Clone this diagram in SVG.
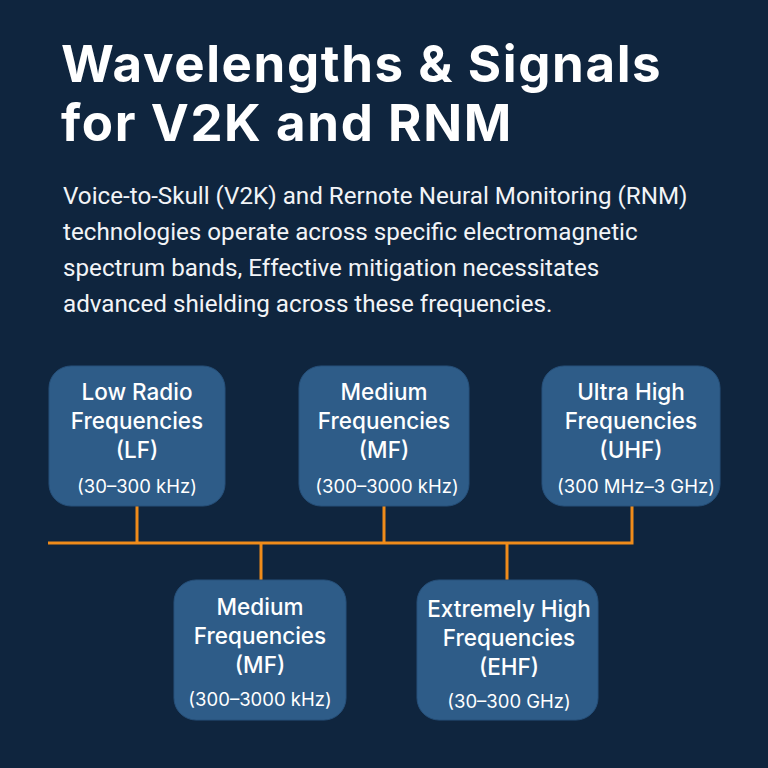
<svg xmlns="http://www.w3.org/2000/svg" width="768" height="768" viewBox="0 0 768 768">
<style>
.title{font-family:"Inter","Liberation Sans",sans-serif;font-weight:700;font-size:51px;letter-spacing:1.6px;fill:#ffffff}
.para{font-family:"Roboto","Liberation Sans",sans-serif;font-size:24.2px;fill:#f2f4f7}
.box{fill:#2e5c88;stroke:#26507a;stroke-width:1}
.lbl{font-family:"Inter","Liberation Sans",sans-serif;font-weight:500;font-size:22.5px;fill:#ffffff;text-anchor:middle}
.rng{font-family:"Inter","Liberation Sans",sans-serif;font-size:18.5px;fill:#ffffff;text-anchor:middle}
.wire{stroke:#f08c1a;stroke-width:3;fill:none}
</style>
<rect width="768" height="768" fill="#0f253e"/>
<text class="title" x="61" y="82">Wavelengths &amp; Signals</text>
<text class="title" x="61" y="141">for V2K and RNM</text>
<text class="para" x="63" y="204">Voice-to-Skull (V2K) and Rernote Neural Monitoring (RNM)</text>
<text class="para" x="63" y="240">technologies operate across specific electromagnetic</text>
<text class="para" x="63" y="276">spectrum bands, Effective mitigation necessitates</text>
<text class="para" x="63" y="312">advanced shielding across these frequencies.</text>
<g id="connectors">
<path class="wire" d="M48 543 H632 V506"/>
<path class="wire" d="M137 506 V543"/>
<path class="wire" d="M384 506 V543"/>
<path class="wire" d="M261 543 V580"/>
<path class="wire" d="M507 543 V580"/>
</g>
<g id="lf">
<rect class="box" x="49" y="366" width="176" height="140" rx="22"/>
<text class="lbl" x="137" y="400">Low Radio</text>
<text class="lbl" x="137" y="429">Frequencies</text>
<text class="lbl" x="137" y="458">(LF)</text>
<text class="rng" x="137" y="493">(30–300 kHz)</text>
</g>
<g id="mf1">
<rect class="box" x="299" y="366" width="170" height="140" rx="22"/>
<text class="lbl" x="384" y="400">Medium</text>
<text class="lbl" x="384" y="429">Frequencies</text>
<text class="lbl" x="384" y="458">(MF)</text>
<text class="rng" x="387" y="493">(300–3000 kHz)</text>
</g>
<g id="uhf">
<rect class="box" x="542" y="366" width="178" height="140" rx="22"/>
<text class="lbl" x="631" y="400">Ultra High</text>
<text class="lbl" x="631" y="429">Frequencies</text>
<text class="lbl" x="631" y="458">(UHF)</text>
<text class="rng" x="636" y="493">(300 MHz–3 GHz)</text>
</g>
<g id="mf2">
<rect class="box" x="174" y="580" width="172" height="140" rx="22"/>
<text class="lbl" x="260" y="615">Medium</text>
<text class="lbl" x="260" y="644">Frequencies</text>
<text class="lbl" x="260" y="673">(MF)</text>
<text class="rng" x="260" y="706">(300–3000 kHz)</text>
</g>
<g id="ehf">
<rect class="box" x="417" y="580" width="181" height="140" rx="22"/>
<text class="lbl" x="509" y="617">Extremely High</text>
<text class="lbl" x="509" y="646">Frequencies</text>
<text class="lbl" x="509" y="675">(EHF)</text>
<text class="rng" x="509" y="708">(30–300 GHz)</text>
</g>
</svg>
